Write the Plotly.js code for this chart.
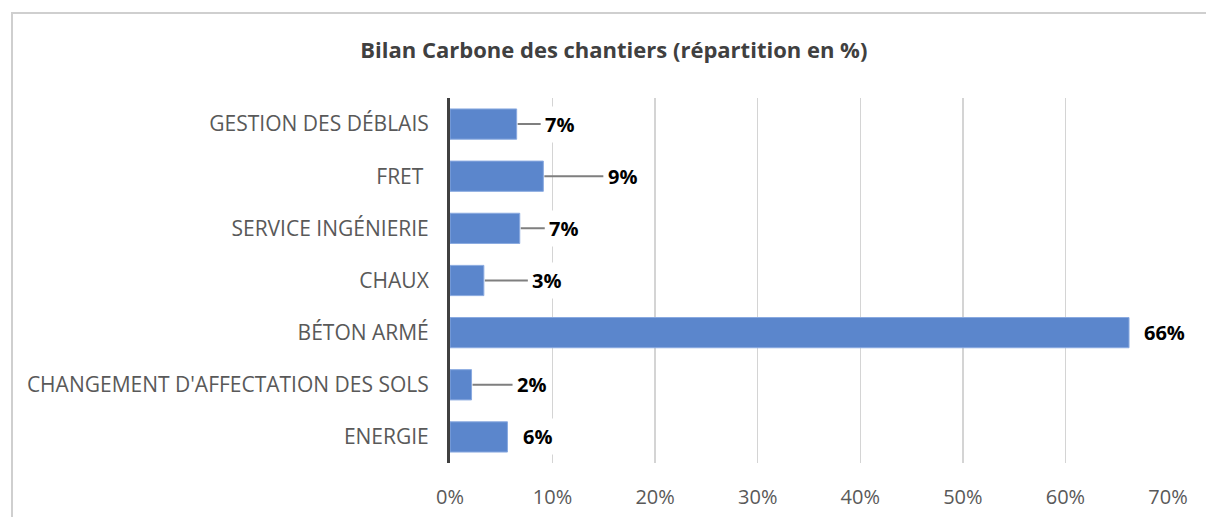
<!DOCTYPE html>
<html>
<head>
<meta charset="utf-8">
<script src="https://cdn.plot.ly/plotly-3.0.1.min.js"></script>
<style>
  html, body { margin: 0; padding: 0; background: #ffffff; }
  #wrap { position: relative; width: 1206px; height: 517px; overflow: hidden; }
  #chart { position: absolute; left: 0; top: 0; width: 1206px; height: 517px; }
  #frame { position: absolute; left: 11px; top: 12px; width: 1300px; height: 600px;
           border-left: 2px solid #cfcfcf; border-top: 2px solid #cfcfcf; pointer-events: none; }
</style>
</head>
<body>
<div id="wrap">
  <div id="chart"></div>
  <div id="frame"></div>
</div>
<script>
// Categories listed bottom to top (as Plotly draws a category y axis)
const categories = [
  "ENERGIE",
  "CHANGEMENT D'AFFECTATION DES SOLS",
  "BÉTON ARMÉ",
  "CHAUX",
  "SERVICE INGÉNIERIE",
  "FRET ",
  "GESTION DES DÉBLAIS"
];
// Share of the carbon footprint, in %
const values = [5.6, 2.1, 66.2, 3.3, 6.8, 9.1, 6.5];
// Data label texts
const labels = ["6%", "2%", "66%", "3%", "7%", "9%", "7%"];
const xTickValues = [0, 10, 20, 30, 40, 50, 60, 70];
const xTickLabels = ["0%", "10%", "20%", "30%", "40%", "50%", "60%", "70%"];

// Label placement (pixels from bar end to label centre), as moved by hand in the original chart
const labelOffsetPx = [30, 60, 35, 63, 44, 79, 43];

const trace = {
  type: 'bar',
  orientation: 'h',
  y: categories,
  x: values,
  marker: { color: '#5b86cc', line: { color: '#8aaae0', width: 1 } },
  hoverinfo: 'x+y'
};

const annotations = categories.map((c, i) => {
  const off = labelOffsetPx[i];
  const leader = off > 40;
  return {
    x: values[i], y: c, xref: 'x', yref: 'y',
    text: '<b>' + labels[i] + '</b>',
    font: { family: 'Open Sans, sans-serif', size: 20, color: '#000000' },
    showarrow: leader,
    arrowhead: 0, arrowwidth: 2, arrowcolor: '#7f7f7f',
    ax: off, ay: 0, axref: 'pixel', ayref: 'pixel',
    xanchor: 'center',
    xshift: leader ? 0 : off,
    yshift: 0,
    bgcolor: '#ffffff', borderpad: 4, standoff: 1
  };
});

const layout = {
  width: 1206, height: 517,
  margin: { l: 450, r: 38, t: 98, b: 54 },
  paper_bgcolor: 'rgba(0,0,0,0)',
  plot_bgcolor: '#ffffff',
  title: {
    text: '<b>Bilan Carbone des chantiers (répartition en %)</b>',
    font: { family: 'Open Sans, sans-serif', size: 22, color: '#404040' },
    x: 0.509, xanchor: 'center', y: 0.903, yanchor: 'middle'
  },
  showlegend: false,
  bargap: 0.42,
  xaxis: {
    range: [0, 70],
    tickvals: xTickValues, ticktext: xTickLabels,
    showgrid: true, gridcolor: '#d4d4d4', gridwidth: 1.5,
    zeroline: false, showline: false,
    ticks: '', ticklabelstandoff: 20,
    tickfont: { family: 'Open Sans, sans-serif', size: 20, color: '#595959' },
    fixedrange: true
  },
  yaxis: {
    type: 'category',
    categoryorder: 'array', categoryarray: categories,
    showline: true, linecolor: '#404040', linewidth: 3,
    showgrid: false, zeroline: false,
    ticks: '', ticklabelstandoff: 14,
    tickfont: { family: 'Open Sans, sans-serif', size: 21, color: '#595959' },
    fixedrange: true
  },
  annotations: annotations
};

Plotly.newPlot('chart', [trace], layout, { displayModeBar: false, staticPlot: true });
</script>
</body>
</html>
